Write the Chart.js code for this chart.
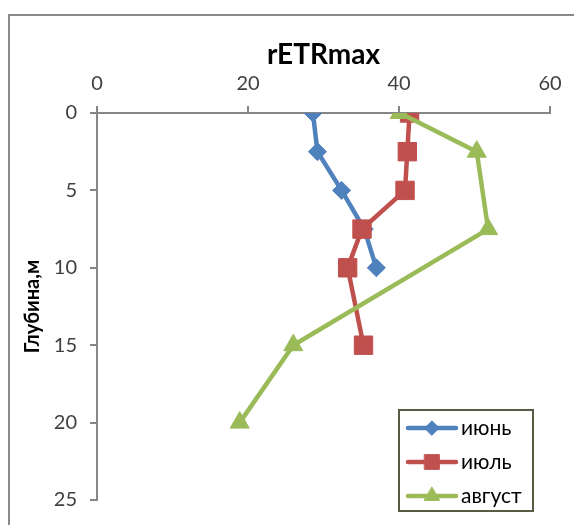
<!DOCTYPE html>
<html>
<head>
<meta charset="utf-8">
<script src="https://cdn.jsdelivr.net/npm/chart.js@4.4.1/dist/chart.umd.min.js"></script>
<style>
  html, body { margin: 0; padding: 0; background: #fff; overflow: hidden; }
  #frame { position: absolute; left: 8px; top: 14px; width: 700px; height: 700px; border: 2px solid #8a8a8a; }
  #chart { position: absolute; left: 0; top: 0; }
</style>
</head>
<body>
<div id="frame"></div>
<canvas id="chart" width="574" height="525"></canvas>
<script>
// depth (m) and rETRmax per month
const juneDepth = [0, 2.5, 5, 7.5, 10]
const juneEtr = [28.6, 29.2, 32.4, 35.4, 37.0]
const julyDepth = [0, 2.5, 5, 7.5, 10, 15]
const julyEtr = [41.4, 41.1, 40.8, 35.1, 33.2, 35.3]
const augDepth = [0, 2.5, 7.5, 15, 20]
const augEtr = [40.1, 50.3, 51.8, 26.0, 18.9]

const seriesNames = ['июнь', 'июль', 'август']
const xTicks = [0, 20, 40, 60]
const yTicks = [0, 5, 10, 15, 20, 25]
const xTitle = 'rETRmax'
const yTitle = 'Глубина,м'

const fontFamily = 'Lato, "Noto Sans", sans-serif'
const axisGray = '#868686'

const toPoints = (xs, ys) => xs.map((x, i) => ({x, y: ys[i]}))

const series = (label, xs, ys, color, pointStyle, radius, order) => ({
  label,
  data: toPoints(xs, ys),
  showLine: true,
  borderColor: color,
  backgroundColor: color,
  borderWidth: 4.5,
  pointStyle,
  pointRadius: radius,
  pointBorderWidth: 1,
  pointBorderColor: color,
  pointBackgroundColor: color,
  order,
})

/** legend box drawn inside the plot, like the Excel one */
const boxLegend = {
  id: 'boxLegend',
  afterDraw(chart) {
    const {ctx} = chart
    const x0 = 399, y0 = 410, w = 134, h = 101
    ctx.save()
    ctx.strokeStyle = '#5b5a44'
    ctx.lineWidth = 2
    ctx.strokeRect(x0, y0, w, h)
    chart.data.datasets.forEach((ds, i) => {
      const y = y0 + 18 + i * 34
      ctx.strokeStyle = ds.borderColor
      ctx.fillStyle = ds.borderColor
      ctx.lineWidth = 4.5
      ctx.lineCap = 'round'
      ctx.beginPath()
      ctx.moveTo(x0 + 9, y)
      ctx.lineTo(x0 + 57, y)
      ctx.stroke()
      ctx.lineWidth = 1
      Chart.helpers.drawPoint(ctx, {
        pointStyle: ds.pointStyle,
        radius: ds.pointRadius * 0.8,
        borderWidth: 1,
        rotation: 0,
      }, x0 + 33, y)
      ctx.fillStyle = '#000'
      ctx.font = `21px ${fontFamily}`
      ctx.textAlign = 'left'
      ctx.textBaseline = 'middle'
      ctx.fillText(ds.label, x0 + 62, y)
    })
    ctx.restore()
  },
}

const config = {
  type: 'scatter',
  data: {
    datasets: [
      series(seriesNames[0], juneEtr, juneDepth, '#4f81bd', 'rectRot', 9, 3),
      series(seriesNames[1], julyEtr, julyDepth, '#c0504d', 'rect', 13, 2),
      series(seriesNames[2], augEtr, augDepth, '#9bbb59', 'triangle', 11, 1),
    ],
  },
  options: {
    responsive: false,
    animation: false,
    events: [],
    layout: {padding: {left: 10, top: 20, right: 24, bottom: 23}},
    plugins: {legend: {display: false}, tooltip: {enabled: false}},
    scales: {
      x: {
        type: 'linear',
        position: 'top',
        min: 0,
        max: 60,
        afterBuildTicks: s => { s.ticks = xTicks.map(value => ({value})) },
        afterFit: s => { s.height = 93 },
        grid: {drawOnChartArea: false, tickLength: 7, color: axisGray, lineWidth: 2},
        border: {color: axisGray, width: 2},
        ticks: {font: {family: fontFamily, size: 20}, color: '#404040', padding: 10, maxRotation: 0},
        title: {display: true, text: xTitle, color: '#000',
          font: {family: fontFamily, size: 28, weight: 'bold'}, padding: {top: 18}},
      },
      y: {
        type: 'linear',
        reverse: true,
        min: 0,
        max: 25,
        afterBuildTicks: s => { s.ticks = yTicks.map(value => ({value})) },
        afterFit: s => { s.width = 87 },
        grid: {drawOnChartArea: false, tickLength: 7, color: axisGray, lineWidth: 2},
        border: {color: axisGray, width: 2},
        ticks: {font: {family: fontFamily, size: 20}, color: '#404040', padding: 13},
        title: {display: true, text: yTitle, color: '#000',
          font: {family: fontFamily, size: 20, weight: 'bold'}, padding: {top: 11}},
      },
    },
  },
  plugins: [boxLegend],
}

new Chart('chart', config)
</script>
</body>
</html>
